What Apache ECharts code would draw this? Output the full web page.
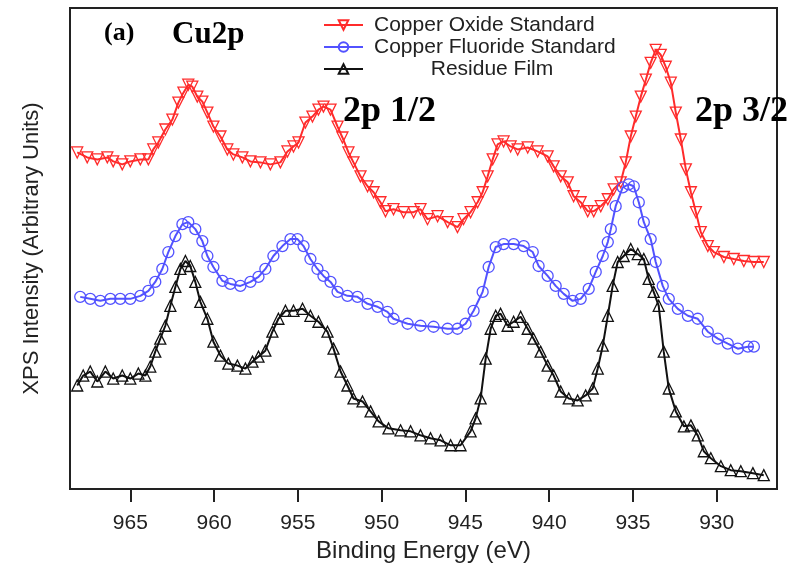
<!DOCTYPE html>
<html>
<head>
<meta charset="utf-8">
<script src="https://cdn.jsdelivr.net/npm/echarts@6/dist/echarts.min.js"></script>
<style>
  html, body { margin: 0; background: #fff; }
  #chart { width: 792px; height: 568px; }
</style>
</head>
<body>
<div id="chart"></div>
<script>
// Cu2p XPS spectra, binding energy (eV) vs intensity (arbitrary units)
const energyTicks = [930, 935, 940, 945, 950, 955, 960, 965];
const seriesNames = ['Copper Oxide Standard', 'Copper Fluoride Standard', 'Residue Film'];

const copperOxide = [
  [968.17,338],[967.57,333],[966.97,331],[966.37,333],[966.02,329],[965.48,326],[965.00,329],[964.40,331],
  [963.92,331],[963.63,341],[963.33,348],[962.91,361],[962.49,371],[962.13,388],[961.83,398],[961.54,406],
  [961.30,404],[961.00,394],[960.70,389],[960.40,378],[960.04,364],[959.62,354],[959.21,341],[958.85,336],
  [958.31,333],[957.83,329],[957.23,328],[956.64,326],[956.04,328],[955.62,339],[955.26,344],[954.96,348],
  [954.55,368],[954.13,374],[953.77,381],[953.47,384],[953.05,381],[952.63,364],[952.34,353],[951.98,338],
  [951.68,328],[951.26,314],[950.84,304],[950.48,298],[950.07,288],[949.77,279],[949.29,281],[948.69,278],
  [948.09,278],[947.68,281],[947.26,271],[946.66,274],[946.06,268],[945.47,263],[945.11,271],[944.69,278],
  [944.27,288],[943.97,298],[943.67,314],[943.37,331],[943.08,346],[942.72,349],[942.30,344],[941.88,341],
  [941.28,343],[940.69,339],[940.09,334],[939.73,324],[939.31,314],[938.89,308],[938.54,294],[938.12,288],
  [937.70,279],[937.34,279],[936.92,284],[936.50,291],[936.15,301],[935.73,308],[935.43,328],[935.13,354],
  [934.83,374],[934.53,394],[934.23,411],[933.94,428],[933.64,441],[933.34,436],[933.04,424],[932.74,408],
  [932.44,378],[932.14,351],[931.84,321],[931.54,298],[931.24,278],[930.95,258],[930.53,244],[930.17,238],
  [929.57,233],[928.98,231],[928.38,229],[927.78,228],[927.19,228]
];

const copperFluoride = [
  [967.99,193],[967.39,191],[966.79,189],[966.19,191],[965.60,191],[965.00,191],[964.40,194],[963.92,199],
  [963.51,208],[963.09,221],[962.73,238],[962.31,254],[961.89,266],[961.54,268],[961.12,261],[960.70,249],
  [960.40,234],[960.04,223],[959.50,209],[959.03,206],[958.43,204],[957.83,208],[957.35,213],[956.94,221],
  [956.46,234],[955.92,244],[955.44,251],[955.02,251],[954.66,244],[954.25,231],[953.83,221],[953.47,214],
  [953.05,208],[952.63,198],[952.04,194],[951.44,193],[950.84,186],[950.24,183],[949.65,178],[949.29,171],
  [948.45,166],[947.68,164],[946.90,163],[946.06,161],[945.47,161],[944.99,166],[944.51,179],[943.97,198],
  [943.61,223],[943.19,243],[942.72,246],[942.12,246],[941.52,244],[940.98,238],[940.63,224],[940.09,214],
  [939.61,204],[939.13,196],[938.60,189],[938.12,191],[937.64,201],[937.22,218],[936.80,234],[936.50,248],
  [936.32,261],[936.03,284],[935.61,303],[935.25,306],[934.95,304],[934.65,288],[934.35,268],[933.94,251],
  [933.64,228],[933.22,204],[932.86,191],[932.32,181],[931.72,174],[931.13,171],[930.53,158],[929.93,151],
  [929.34,146],[928.74,141],[928.14,143],[927.78,143]
];

const residueFilm = [
  [968.17,104],[967.81,114],[967.39,118],[966.97,108],[966.49,118],[966.02,111],[965.48,114],[965.00,111],
  [964.52,116],[964.10,114],[963.81,123],[963.51,138],[963.21,151],[962.91,164],[962.61,184],[962.31,203],
  [962.01,221],[961.71,229],[961.42,224],[961.12,208],[960.82,188],[960.40,171],[960.04,148],[959.62,134],
  [959.15,126],[958.61,124],[958.13,121],[957.71,128],[957.35,133],[956.94,139],[956.52,158],[956.16,171],
  [955.74,179],[955.26,179],[954.72,181],[954.25,174],[953.77,168],[953.23,158],[952.87,141],[952.45,118],
  [952.04,104],[951.68,91],[951.14,88],[950.66,78],[950.18,68],[949.59,61],[948.87,59],[948.27,58],
  [947.68,54],[947.08,51],[946.48,49],[945.88,44],[945.29,44],[944.69,58],[944.39,71],[944.09,91],
  [943.79,131],[943.49,161],[943.19,174],[942.90,176],[942.48,164],[942.12,168],[941.70,173],[941.28,161],
  [940.93,151],[940.51,138],[940.09,124],[939.73,114],[939.31,98],[938.83,91],[938.30,89],[937.82,94],
  [937.40,101],[937.10,121],[936.80,144],[936.50,174],[936.21,204],[935.91,228],[935.55,234],[935.13,241],
  [934.71,236],[934.35,231],[934.06,211],[933.76,198],[933.46,184],[933.16,138],[932.86,101],[932.44,78],
  [931.96,63],[931.54,64],[931.13,54],[930.77,38],[930.35,31],[929.75,23],[929.16,19],[928.56,18],
  [927.84,16],[927.19,14]
];

const seriesData = [copperOxide, copperFluoride, residueFilm];
const seriesColors = ['#ff2b2b', '#5252ff', '#111111'];
const seriesSymbols = ['triangle', 'circle', 'triangle'];
const seriesRotate = [180, 0, 0];

const chart = echarts.init(document.getElementById('chart'), null, { renderer: 'canvas' });

const axisFont = 'Liberation Sans';

const option = {
  animation: false,
  backgroundColor: '#fff',
  grid: {
    left: 70, right: 15, top: 8, bottom: 77,
    show: true, borderColor: '#222', borderWidth: 2, backgroundColor: 'transparent'
  },
  legend: {
    data: seriesNames,
    orient: 'vertical',
    left: 323, top: 14,
    padding: 0,
    itemGap: 0,
    itemWidth: 39,
    itemHeight: 12,
    selectedMode: false,
    formatter: (name) => name === 'Residue Film' ? '{c|' + name + '}' : '{l|' + name + '}',
    textStyle: {
      fontFamily: axisFont, fontSize: 21, color: '#222', lineHeight: 22,
      rich: {
        l: { width: 236, align: 'left', padding: [0, 0, 0, 6], fontSize: 21, fontFamily: axisFont, color: '#222' },
        c: { width: 236, align: 'center', padding: [0, 0, 0, 6], fontSize: 21, fontFamily: axisFont, color: '#222' }
      }
    }
  },
  xAxis: {
    type: 'value',
    min: 926.4, max: 968.6,
    inverse: true,
    name: 'Binding Energy (eV)',
    nameLocation: 'middle',
    nameGap: 44,
    nameTextStyle: { fontFamily: axisFont, fontSize: 24, color: '#222' },
    axisLine: { show: true, lineStyle: { color: '#222', width: 2 } },
    axisTick: { show: true, length: 13, lineStyle: { color: '#222', width: 2 }, customValues: energyTicks },
    axisLabel: { fontFamily: axisFont, fontSize: 21, color: '#222', margin: 24, customValues: energyTicks },
    splitLine: { show: false }
  },
  yAxis: {
    type: 'value',
    min: 0, max: 483,
    name: 'XPS Intensity (Arbitrary Units)',
    nameLocation: 'middle',
    nameGap: 27,
    nameTextStyle: { fontFamily: axisFont, fontSize: 22, color: '#222' },
    axisLine: { show: false },
    axisTick: { show: false },
    axisLabel: { show: false },
    splitLine: { show: false }
  },
  series: seriesNames.map((name, i) => ({
    name,
    type: 'line',
    data: seriesData[i],
    symbol: seriesSymbols[i],
    symbolRotate: seriesRotate[i],
    symbolSize: 11,
    showSymbol: true,
    lineStyle: { color: seriesColors[i], width: 2 },
    itemStyle: { color: 'transparent', borderColor: seriesColors[i], borderWidth: 1.3 },
    emphasis: { disabled: true },
    z: 2 + i
  })),
  graphic: [
    { type: 'text', x: 104, y: 33, z: 10,
      style: { text: '(a)', font: 'bold 26px "Liberation Serif"', fill: '#000', verticalAlign: 'middle' } },
    { type: 'text', x: 172, y: 35, z: 10,
      style: { text: 'Cu2p', font: 'bold 31px "Liberation Serif"', fill: '#000', verticalAlign: 'middle' } },
    { type: 'text', x: 343, y: 112, z: 10,
      style: { text: '2p 1/2', font: 'bold 36px "Liberation Serif"', fill: '#000', verticalAlign: 'middle' } },
    { type: 'text', x: 695, y: 112, z: 10,
      style: { text: '2p 3/2', font: 'bold 36px "Liberation Serif"', fill: '#000', verticalAlign: 'middle' } }
  ]
};

chart.setOption(option);
window.addEventListener('resize', () => chart.resize());
</script>
</body>
</html>
